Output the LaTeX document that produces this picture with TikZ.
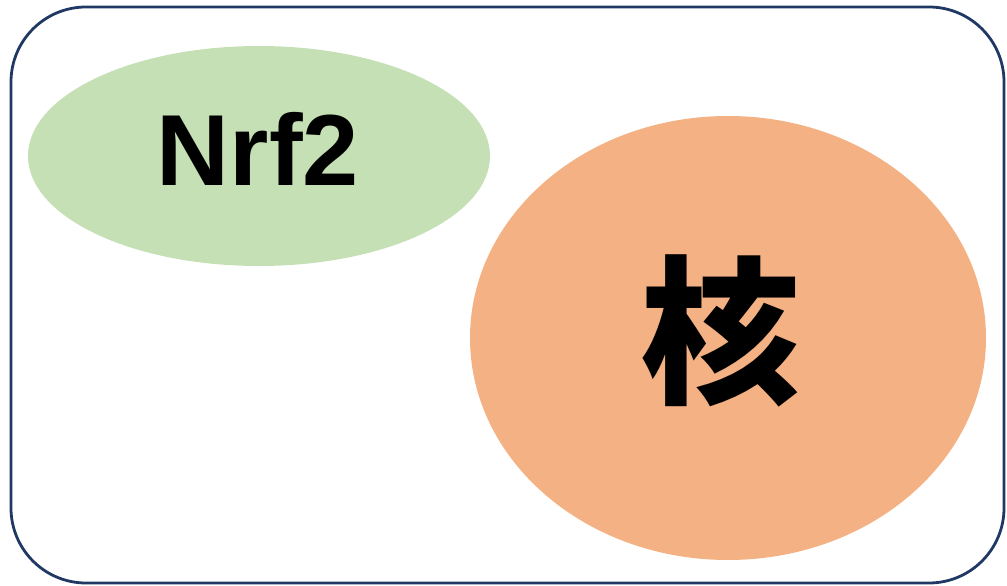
\documentclass[tikz,border=0pt]{standalone}
\usepackage{fontspec}
\setmainfont{Liberation Sans}
\newfontfamily\cjk{Noto Sans CJK JP}
\definecolor{frame}{HTML}{1F3864}
\definecolor{leaf}{HTML}{C5E0B4}
\definecolor{peach}{HTML}{F4B183}
\begin{document}
\begin{tikzpicture}[x=1pt,y=-1pt]
\useasboundingbox (0,0) rectangle (1007,586);
\draw[frame, line width=2.8pt, rounded corners=75pt] (11,7) rectangle (1004,583);
\fill[leaf] (259,156) ellipse [x radius=231, y radius=110];
\fill[peach] (728,338) ellipse [x radius=258, y radius=222];
\node[inner sep=0pt, anchor=base] (nrf) at (258,185) {\fontsize{101}{106}\selectfont\bfseries Nrf2};
\node[inner sep=0pt] (nuc) at (720,331) {\cjk\fontsize{160}{162}\selectfont\bfseries 核};
\end{tikzpicture}
\end{document}
